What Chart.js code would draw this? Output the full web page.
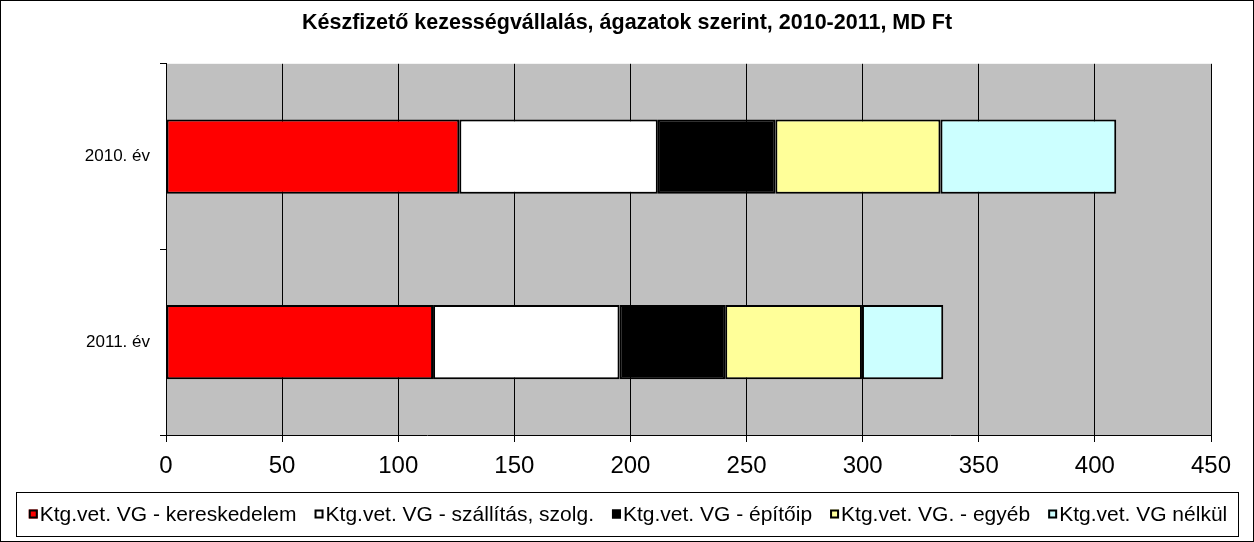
<!DOCTYPE html>
<html>
<head>
<meta charset="utf-8">
<script src="https://cdn.jsdelivr.net/npm/chart.js@4.4.0/dist/chart.umd.min.js"></script>
<style>
  body { margin: 0; background: #fff; }
  #wrap { width: 1254px; height: 542px; border: 1px solid #000; box-sizing: border-box; }
</style>
</head>
<body>
<div id="wrap"><canvas id="myChart"></canvas></div>
<script>
const years = ['2010. év', '2011. év'];

const kereskedelem = [126.3, 115.0];
const szallitas    = [85.5, 80.3];
const epitoip      = [50.6, 45.5];
const egyeb        = [71.1, 58.9];
const nelkul       = [75.7, 35.0];

const xTicks = [0, 50, 100, 150, 200, 250, 300, 350, 400, 450];

const font = 'Liberation Sans, Arial, sans-serif';

// gray plot area, and the boxed legend drawn by hand
const plotBg = {
  id: 'plotBg',
  beforeDraw(chart) {
    const { ctx, chartArea: a } = chart;
    ctx.save();
    ctx.fillStyle = '#c0c0c0';
    ctx.fillRect(a.left, a.top, a.right - a.left, a.bottom - a.top);
    ctx.restore();
  },
  afterDraw(chart) {
    const ctx = chart.ctx;
    ctx.save();
    ctx.strokeStyle = '#000';
    ctx.lineWidth = 1;
    ctx.strokeRect(15.5, 491.5, 1222, 44);

    ctx.font = '21px ' + font;
    ctx.textBaseline = 'middle';
    const box = 9, gap = 2, space = 18;
    const items = chart.data.datasets.map(d => ({
      label: d.label, color: d.backgroundColor, w: box + gap + ctx.measureText(d.label).width
    }));
    const total = items.reduce((s, it) => s + it.w, 0) + space * (items.length - 1);
    let x = 627 - total / 2;
    const y = 513;
    items.forEach(it => {
      ctx.fillStyle = it.color;
      ctx.fillRect(x, y - box / 2, box, box);
      ctx.lineWidth = 2;
      ctx.strokeRect(x + 1, y - box / 2 + 1, box - 2, box - 2);
      ctx.fillStyle = '#000';
      ctx.fillText(it.label, x + box + gap, y + 1);
      x += it.w + space;
    });
    ctx.restore();
  }
};

const ctx = document.getElementById('myChart');

function ds(label, data, color) {
  return {
    label: label,
    data: data,
    backgroundColor: color,
    borderColor: '#000',
    borderWidth: 2,
    borderSkipped: false,
    barPercentage: 0.4,
    categoryPercentage: 1.0
  };
}

new Chart(ctx, {
  type: 'bar',
  data: {
    labels: years,
    datasets: [
      ds('Ktg.vet. VG - kereskedelem', kereskedelem, '#ff0000'),
      ds('Ktg.vet. VG - szállítás, szolg.', szallitas, '#ffffff'),
      ds('Ktg.vet. VG - építőip', epitoip, '#000000'),
      ds('Ktg.vet. VG. - egyéb', egyeb, '#ffff99'),
      ds('Ktg.vet. VG nélkül', nelkul, '#ccffff')
    ]
  },
  options: {
    indexAxis: 'y',
    responsive: true,
    maintainAspectRatio: false,
    animation: false,
    layout: { padding: { left: 42, right: 42, top: 0, bottom: 66 } },
    scales: {
      x: {
        stacked: true,
        min: 0,
        max: 450,
        afterBuildTicks(axis) { axis.ticks = xTicks.map(v => ({ value: v })); },
        afterFit(axis) { axis.height = 40; },
        grid: { color: '#000', lineWidth: 1, tickLength: 7 },
        border: { color: '#000', width: 1 },
        ticks: { color: '#000', font: { family: font, size: 24 }, padding: 10, maxRotation: 0 }
      },
      y: {
        stacked: true,
        afterFit(axis) { axis.width = 123; },
        grid: { color: '#000', lineWidth: 1, tickLength: 6, drawOnChartArea: false, offset: true },
        border: { color: '#000', width: 1 },
        ticks: { color: '#000', font: { family: font, size: 17 }, padding: 10 }
      }
    },
    plugins: {
      title: {
        display: true,
        text: 'Készfizető kezességvállalás, ágazatok szerint, 2010-2011, MD Ft',
        color: '#000',
        font: { family: font, size: 21.5, weight: 'bold' },
        padding: { top: 9, bottom: 28 }
      },
      legend: { display: false },
      tooltip: { enabled: false }
    }
  },
  plugins: [plotBg]
});
</script>
</body>
</html>
